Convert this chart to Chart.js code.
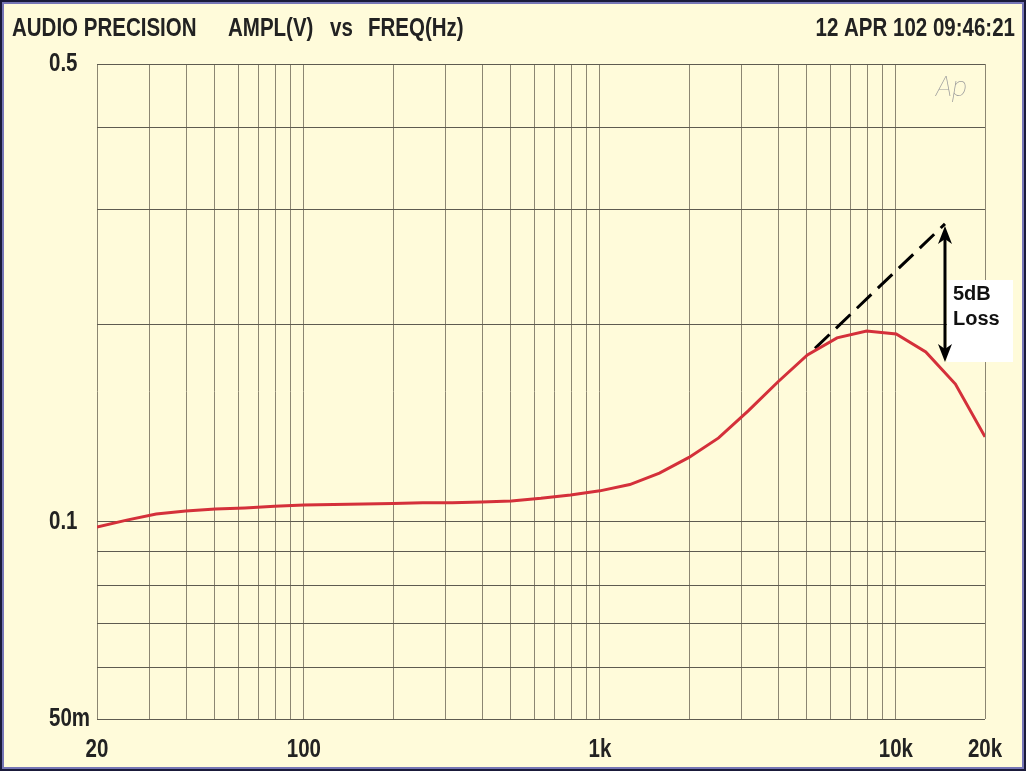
<!DOCTYPE html>
<html lang="en">
<head>
<meta charset="UTF-8">
<title>AMPL(V) vs FREQ(Hz)</title>
<style>
  body { margin: 0; background: #fff; }
  #wrap { width: 1026px; height: 771px; }
</style>
</head>
<body>
<div id="wrap"><canvas id="chart" width="1026" height="771"></canvas></div>
<script src="https://cdn.jsdelivr.net/npm/chart.js"></script>
<script>
// measured response, 1/3 octave steps
const freqs = [20, 25.2, 31.7, 39.9, 50.2, 63.2, 79.6, 100, 126, 159, 200, 252, 317, 399, 502, 632, 796,
               1000, 1262, 1589, 2000, 2518, 3170, 3991, 5024, 6325, 7962, 10024, 12619, 15887, 20000];
const ampl = [0.0982, 0.1006, 0.1028, 0.1039, 0.1046, 0.1050, 0.1056, 0.1061, 0.1063, 0.1065, 0.1067,
              0.1069, 0.1069, 0.1072, 0.1076, 0.1086, 0.1099, 0.1115, 0.1140, 0.1187, 0.1254, 0.1343,
              0.1477, 0.1635, 0.1798, 0.1909, 0.1956, 0.1936, 0.1817, 0.1623, 0.1348];

// extrapolated trend (dashed) and the loss arrow
const trendFreq = [5330, 14650];
const trendAmpl = [0.184, 0.285];
const arrowFreq = 14650;
const arrowAmpl = [0.281, 0.1766];

const xGrid = [20, 30, 40, 50, 60, 70, 80, 90, 100, 200, 300, 400, 500, 600, 700, 800, 900,
               1000, 2000, 3000, 4000, 5000, 6000, 7000, 8000, 9000, 10000, 20000];
const xLabels = {20: '20', 100: '100', 1000: '1k', 10000: '10k', 20000: '20k'};
const yGrid = [0.05, 0.06, 0.07, 0.08, 0.09, 0.1, 0.2, 0.3, 0.4, 0.5];
const yLabels = {0.05: '50m', 0.1: '0.1', 0.5: '0.5'};

const BG = '#FFFBDA';
const INK = '#222';
const labelFont = "bold 25px 'Liberation Sans', Arial, sans-serif";

// condensed bold text (no narrow face installed, so squeeze it)
function narrowText(c, text, x, y, align, baseline) {
  c.save();
  c.font = labelFont;
  c.fillStyle = INK;
  c.textBaseline = baseline || 'alphabetic';
  const w = c.measureText(text).width * 0.82;
  let left = x;
  if (align === 'right') left = x - w;
  else if (align === 'center') left = x - w / 2;
  c.translate(left, y);
  c.scale(0.82, 1);
  c.textAlign = 'left';
  c.fillText(text, 0, 0);
  c.restore();
}

const decor = {
  id: 'decor',
  beforeDraw(chart) {
    const c = chart.ctx;
    c.save();
    c.fillStyle = BG;
    c.fillRect(0, 0, chart.width, chart.height);
    c.restore();
  },
  afterDatasetsDraw(chart) {
    const c = chart.ctx;
    const x = chart.scales.x, y = chart.scales.y;
    const ax = x.getPixelForValue(arrowFreq);
    const y1 = y.getPixelForValue(arrowAmpl[0]);
    const y2 = y.getPixelForValue(arrowAmpl[1]);
    c.save();
    // label box
    c.fillStyle = '#ffffff';
    c.fillRect(ax + 2, 280, 66, 82);
    c.fillStyle = '#111';
    c.font = "bold 20px 'Liberation Sans', Arial, sans-serif";
    c.textBaseline = 'alphabetic';
    c.fillText('5dB', ax + 8, 300);
    c.fillText('Loss', ax + 8, 325);
    // double arrow
    c.strokeStyle = '#000';
    c.fillStyle = '#000';
    c.lineWidth = 3;
    c.beginPath();
    c.moveTo(ax, y1 + 8);
    c.lineTo(ax, y2 - 8);
    c.stroke();
    c.beginPath();
    c.moveTo(ax, y1 - 2); c.lineTo(ax - 7, y1 + 16); c.lineTo(ax, y1 + 11); c.lineTo(ax + 7, y1 + 16);
    c.closePath(); c.fill();
    c.beginPath();
    c.moveTo(ax, y2 + 2); c.lineTo(ax - 7, y2 - 16); c.lineTo(ax, y2 - 11); c.lineTo(ax + 7, y2 - 16);
    c.closePath(); c.fill();
    c.restore();
  },
  afterDraw(chart) {
    const c = chart.ctx;
    const x = chart.scales.x, y = chart.scales.y;
    // header
    narrowText(c, 'AUDIO PRECISION', 12, 36, 'left');
    narrowText(c, 'AMPL(V)', 228, 36, 'left');
    narrowText(c, 'vs', 330, 36, 'left');
    narrowText(c, 'FREQ(Hz)', 368, 36, 'left');
    narrowText(c, '12 APR 102 09:46:21', 1015, 36, 'right');
    // axis labels, placed by the scales
    yGrid.forEach(v => {
      if (yLabels[v]) narrowText(c, yLabels[v], 49, y.getPixelForValue(v), 'left', 'middle');
    });
    xGrid.forEach(v => {
      if (xLabels[v]) narrowText(c, xLabels[v], x.getPixelForValue(v), 750, 'center', 'middle');
    });
    c.save();
    // logo
    c.fillStyle = '#9c9c9c';
    c.font = "italic 100 28px Roboto, 'DejaVu Sans', sans-serif";
    c.textAlign = 'left';
    c.textBaseline = 'alphabetic';
    c.fillText('Ap', 936, 96);
    // frame
    c.strokeStyle = '#7676b6';
    c.lineWidth = 2;
    c.strokeRect(3, 3, chart.width - 6, chart.height - 6);
    c.strokeStyle = '#1a1a3a';
    c.lineWidth = 2;
    c.strokeRect(1, 1, chart.width - 2, chart.height - 2);
    c.restore();
  }
};

new Chart(document.getElementById('chart').getContext('2d'), {
  type: 'line',
  data: {
    datasets: [{
      data: freqs.map((f, i) => ({x: f, y: ampl[i]})),
      borderColor: '#d4303a',
      borderWidth: 3,
      pointRadius: 0,
      tension: 0
    }, {
      data: trendFreq.map((f, i) => ({x: f, y: trendAmpl[i]})),
      borderColor: '#000',
      borderWidth: 3,
      borderDash: [20, 9],
      pointRadius: 0
    }]
  },
  options: {
    responsive: false,
    animation: false,
    layout: { padding: { left: 49, top: 64, right: 41, bottom: 0 } },
    plugins: { legend: { display: false }, tooltip: { enabled: false } },
    scales: {
      x: {
        type: 'logarithmic',
        min: 20,
        max: 20000,
        afterBuildTicks: s => { s.ticks = xGrid.map(v => ({value: v})); },
        afterFit: s => { s.height = 52; },
        grid: { color: '#8c8672', lineWidth: 1, drawTicks: false },
        border: { display: false },
        ticks: { display: false, autoSkip: false }
      },
      y: {
        type: 'logarithmic',
        min: 0.05,
        max: 0.5,
        afterBuildTicks: s => { s.ticks = yGrid.map(v => ({value: v})); },
        afterFit: s => { s.width = 48; },
        grid: { color: '#5e5b50', lineWidth: 1, drawTicks: false },
        border: { display: false },
        ticks: { display: false, autoSkip: false }
      }
    }
  },
  plugins: [decor]
});
</script>
</body>
</html>
